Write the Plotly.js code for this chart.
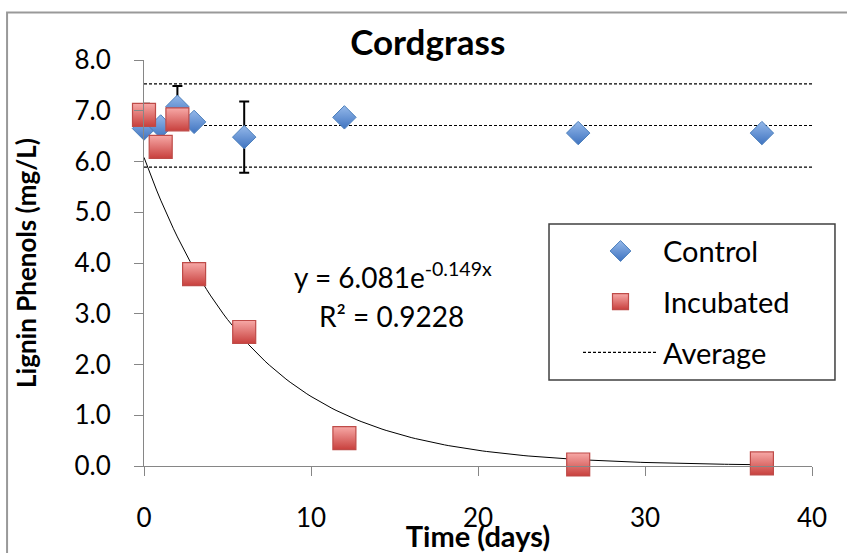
<!DOCTYPE html>
<html>
<head>
<meta charset="utf-8">
<script src="https://cdn.plot.ly/plotly-3.0.1.min.js"></script>
<style>html,body{margin:0;padding:0;background:#fff;}</style>
</head>
<body>
<div id="chart" style="width:847px;height:553px;"></div>
<script>
// Control samples (days, mg/L) with error bars
const controlDays = [0, 1, 2, 3, 6, 12, 26, 37];
const controlValues = [6.65, 6.69, 7.08, 6.78, 6.48, 6.87, 6.56, 6.56];
const controlErrors = [0, 0, 0.41, 0, 0.70, 0, 0, 0];

// Incubated samples
const incubatedDays = [0, 1, 2, 3, 6, 12, 26, 37];
const incubatedValues = [6.92, 6.29, 6.83, 3.78, 2.64, 0.55, 0.03, 0.05];
const incubatedErrors = [0.22, 0, 0, 0, 0, 0, 0, 0];

// Average band of the control (mean and mean ± spread)
const averageSpan = [0, 40];
const averageLevels = [7.53, 6.71, 5.89];

// Exponential trendline shown in chart: y = 6.081 e^(-0.149 x)
const trendA = 6.081;
const trendB = -0.149;
const trendRange = [0, 37];
const rSquared = "0.9228";

const yTicks = [0, 1, 2, 3, 4, 5, 6, 7, 8];
const xTicks = [0, 10, 20, 30, 40];

const FONT = 'Lato, "Open Sans", sans-serif';

// build trend curve from the fitted equation
const trendX = [], trendY = [];
for (let i = 0; i <= 148; i++) {
  const x = trendRange[0] + (trendRange[1] - trendRange[0]) * i / 148;
  trendX.push(x);
  trendY.push(trendA * Math.exp(trendB * x));
}

// average lines as one trace separated by gaps
const avgX = [], avgY = [];
averageLevels.forEach((lv, i) => {
  if (i > 0) { avgX.push(null); avgY.push(null); }
  avgX.push(averageSpan[0], averageSpan[1]);
  avgY.push(lv, lv);
});

const traces = [
  {
    x: avgX, y: avgY, mode: 'lines', name: 'Average',
    line: {color: '#000', width: 1.1, dash: '3px,2px'},
    legendrank: 3, legendgroup: 'c', hoverinfo: 'skip'
  },
  {
    x: trendX, y: trendY, mode: 'lines', showlegend: false,
    line: {color: '#000', width: 1}, hoverinfo: 'skip'
  },
  {
    x: controlDays, y: controlValues, mode: 'markers', name: 'Control',
    legendrank: 1, legendgroup: 'a', cliponaxis: false,
    marker: {symbol: 'diamond', size: 18, color: '#95b9ea',
      gradient: {type: 'vertical', color: '#3f73c0'},
      line: {color: '#4a7ebb', width: 1}},
    error_y: {type: 'data', array: controlErrors, visible: true,
      color: '#000', thickness: 2, width: 5}
  },
  {
    x: incubatedDays, y: incubatedValues, mode: 'markers', name: 'Incubated',
    legendrank: 2, legendgroup: 'b', cliponaxis: false,
    marker: {symbol: 'square', size: 23, color: '#f7a9a7',
      gradient: {type: 'vertical', color: '#c8403d'},
      line: {color: '#be4b48', width: 1.2}},
    error_y: {type: 'data', array: incubatedErrors, visible: true,
      color: '#000', thickness: 2, width: 6}
  }
];

const layout = {
  width: 847, height: 553,
  margin: {l: 144, r: 35, t: 60, b: 87},
  paper_bgcolor: '#fff', plot_bgcolor: '#fff',
  font: {family: FONT, color: '#000'},
  showlegend: true,
  title: {text: '<b>Cordgrass</b>', font: {family: FONT, size: 35, color: '#000'},
    x: 0.505, xref: 'container', xanchor: 'center', y: 0.922, yref: 'container', yanchor: 'middle'},
  xaxis: {
    range: [0, 40], tickvals: xTicks, ticktext: xTicks.map(String),
    showline: true, linecolor: '#868686', linewidth: 1,
    ticks: 'outside', ticklen: 9, tickcolor: '#868686', tickwidth: 1,
    showgrid: false, zeroline: false,
    tickfont: {family: FONT, size: 26, color: '#000'},
    ticklabelstandoff: 20,
    title: {text: '<b>Time (days)</b>', font: {family: FONT, size: 29, color: '#000'}, standoff: 4}
  },
  yaxis: {
    range: [0, 8], tickvals: yTicks, ticktext: yTicks.map(v => v.toFixed(1)),
    showline: true, linecolor: '#868686', linewidth: 1,
    ticks: 'outside', ticklen: 9, tickcolor: '#868686', tickwidth: 1,
    showgrid: false, zeroline: false,
    tickfont: {family: FONT, size: 26, color: '#000'},
    ticklabelstandoff: 18,
    title: {text: '<b>Lignin Phenols (mg/L)</b>', font: {family: FONT, size: 26, color: '#000'}, standoff: 30}
  },
  legend: {
    x: 0.6497, y: 0.592, xanchor: 'left', yanchor: 'top',
    bgcolor: 'rgba(0,0,0,0)', borderwidth: 0,
    font: {family: FONT, size: 29, color: '#000'},
    traceorder: 'grouped', tracegroupgap: 10, itemwidth: 75,
    itemclick: false
  },
  annotations: [
    {x: 14.9, y: 3.76, xref: 'x', yref: 'y', showarrow: false,
      text: 'y = ' + trendA.toFixed(3) + 'e<sup>' + trendB.toFixed(3) + 'x</sup>',
      font: {family: FONT, size: 28, color: '#000'}, xanchor: 'center', yanchor: 'middle'},
    {x: 14.85, y: 2.96, xref: 'x', yref: 'y', showarrow: false,
      text: 'R² = ' + rSquared,
      font: {family: FONT, size: 28, color: '#000'}, xanchor: 'center', yanchor: 'middle'}
  ],
  shapes: [
    {type: 'rect', xref: 'paper', yref: 'paper',
      x0: -0.205, x1: 1.2, y0: -0.4, y1: 1.117,
      line: {color: '#999', width: 2}, fillcolor: 'rgba(0,0,0,0)', layer: 'below'},
    {type: 'rect', xref: 'paper', yref: 'paper',
      x0: 0.6063, x1: 1.0344, y0: 0.2118, y1: 0.596,
      line: {color: '#404040', width: 1.5}, fillcolor: 'rgba(0,0,0,0)', layer: 'above'}
  ]
};

Plotly.newPlot('chart', traces, layout, {displayModeBar: false, staticPlot: true});
</script>
</body>
</html>
